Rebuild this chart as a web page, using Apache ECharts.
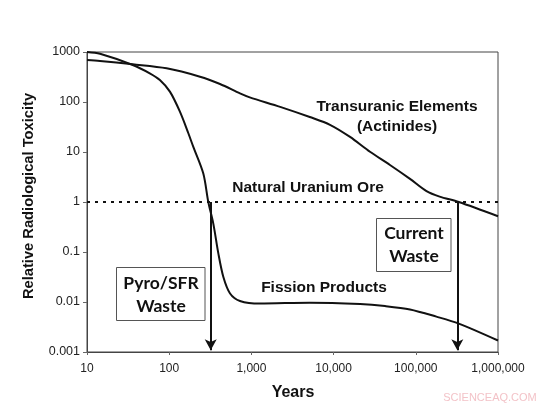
<!DOCTYPE html>
<html>
<head>
<meta charset="utf-8">
<script src="https://cdn.jsdelivr.net/npm/echarts@6/dist/echarts.min.js"></script>
<style>html,body{margin:0;padding:0;background:#fff;}#c{width:547px;height:407px;}</style>
</head>
<body>
<div id="c"></div>
<script>
// Data
var transYears = [10, 14.4, 36, 93, 237, 415, 726, 955, 2240, 5130, 9040, 15850, 27700, 48500, 85000, 135000, 195000, 333000, 1000000];
var transVals  = [690, 661, 567, 472, 321, 229, 149, 124, 80, 50, 35, 20, 10.1, 5.5, 2.9, 1.65, 1.28, 1.0, 0.52];

var fissYears = [10, 14.4, 36, 58, 77, 102, 135, 171, 196, 260, 299, 344, 396, 455, 550, 726, 1270, 5130, 21000, 42200, 85000, 178000, 333000, 1000000];
var fissVals  = [1000, 920, 550, 375, 275, 161, 64, 23.7, 12.8, 3.7, 1.0, 0.37, 0.094, 0.032, 0.0148, 0.0105, 0.0093, 0.0097, 0.0091, 0.0083, 0.0071, 0.0051, 0.0037, 0.0017];

var oreLevel = 1;
var oreYears = [10, 1000000];
var arrowYears = [320, 320000];   // Pyro/SFR waste, Current waste
var arrowBottom = 0.00108;

var xTickLabels = ['10', '100', '1,000', '10,000', '100,000', '1,000,000'];
var yTickLabels = ['0.001', '0.01', '0.1', '1', '10', '100', '1000'];

function zip(a, b) { return a.map(function (v, i) { return [v, b[i]]; }); }

var chart = echarts.init(document.getElementById('c'));
var lbl = { fontFamily: 'Liberation Sans', fontWeight: 'bold', fontSize: 15.5, fill: '#111' };
function t(text, x, y, extra) {
  var s = Object.assign({}, lbl, { text: text, align: 'center', verticalAlign: 'middle' }, extra || {});
  return { type: 'text', x: x, y: y, style: s, z: 10 };
}
var option = {
  animation: false,
  backgroundColor: '#fff',
  grid: { left: 87, right: 49, top: 52, bottom: 55, show: true, borderColor: '#444', borderWidth: 1 },
  xAxis: {
    type: 'log', logBase: 10, min: 10, max: 1000000,
    axisLine: { lineStyle: { color: '#444', width: 1 } },
    axisTick: { show: true, length: 3, lineStyle: { color: '#666' } },
    splitLine: { show: false },
    minorTick: { show: false },
    axisLabel: {
      margin: 11, fontFamily: 'Liberation Sans', fontSize: 12, color: '#222',
      formatter: function (v) { var i = Math.round(Math.log10(v)) - 1; return xTickLabels[i] || ''; }
    }
  },
  yAxis: {
    type: 'log', logBase: 10, min: 0.001, max: 1000,
    axisLine: { show: true, lineStyle: { color: '#444', width: 1 } },
    axisTick: { show: true, length: 4, lineStyle: { color: '#666' } },
    splitLine: { show: false },
    axisLabel: {
      margin: 7, fontFamily: 'Liberation Sans', fontSize: 12.5, color: '#222',
      formatter: function (v) { var i = Math.round(Math.log10(v)) + 3; return yTickLabels[i] || ''; }
    }
  },
  series: [
    { type: 'line', data: zip(transYears, transVals), smooth: 0.3, symbol: 'none',
      lineStyle: { color: '#111', width: 2 } },
    { type: 'line', data: zip(fissYears, fissVals), smooth: 0.3, symbol: 'none',
      lineStyle: { color: '#111', width: 2 } },
    { type: 'line', data: oreYears.map(function (x) { return [x, oreLevel]; }), symbol: 'none',
      lineStyle: { color: '#111', width: 2, type: [3, 5] } },
    { type: 'line', data: [], symbol: 'none',
      markLine: {
        silent: true, symbol: ['none', 'arrow'], symbolSize: [9, 11],
        label: { show: false },
        lineStyle: { color: '#111', width: 2, type: 'solid' },
        data: arrowYears.map(function (x) { return [{ coord: [x, oreLevel] }, { coord: [x, arrowBottom] }]; })
      }
    }
  ],
  graphic: [
    { type: 'text', x: 29, y: 196, rotation: Math.PI / 2, z: 10,
      style: Object.assign({}, lbl, { text: 'Relative Radiological Toxicity', align: 'center', verticalAlign: 'middle', fontSize: 14.7 }) },
    t('Years', 293, 393, { fontSize: 16 }),
    t('Transuranic Elements', 397, 107),
    t('(Actinides)', 397, 127),
    t('Natural Uranium Ore', 308, 188),
    t('Fission Products', 324, 288),
    { type: 'rect', shape: { x: 116.5, y: 267.5, width: 88.5, height: 53 }, style: { fill: '#fff', stroke: '#555', lineWidth: 1 }, z: 9 },
    t('Pyro/SFR', 161, 283.5, { fontFamily: 'Lato', fontSize: 17.5 }),
    t('Waste', 161, 306.5, { fontFamily: 'Lato', fontSize: 17.5 }),
    { type: 'rect', shape: { x: 376.5, y: 218.5, width: 74.5, height: 53 }, style: { fill: '#fff', stroke: '#555', lineWidth: 1 }, z: 9 },
    t('Current', 414, 233.5, { fontFamily: 'Lato', fontSize: 17.5 }),
    t('Waste', 414, 256.5, { fontFamily: 'Lato', fontSize: 17.5 }),
    t('SCIENCEAQ.COM', 490, 398, { fontWeight: 'normal', fontSize: 11, fill: '#f3c3c8' })
  ]
};
chart.setOption(option);
</script>
</body>
</html>
